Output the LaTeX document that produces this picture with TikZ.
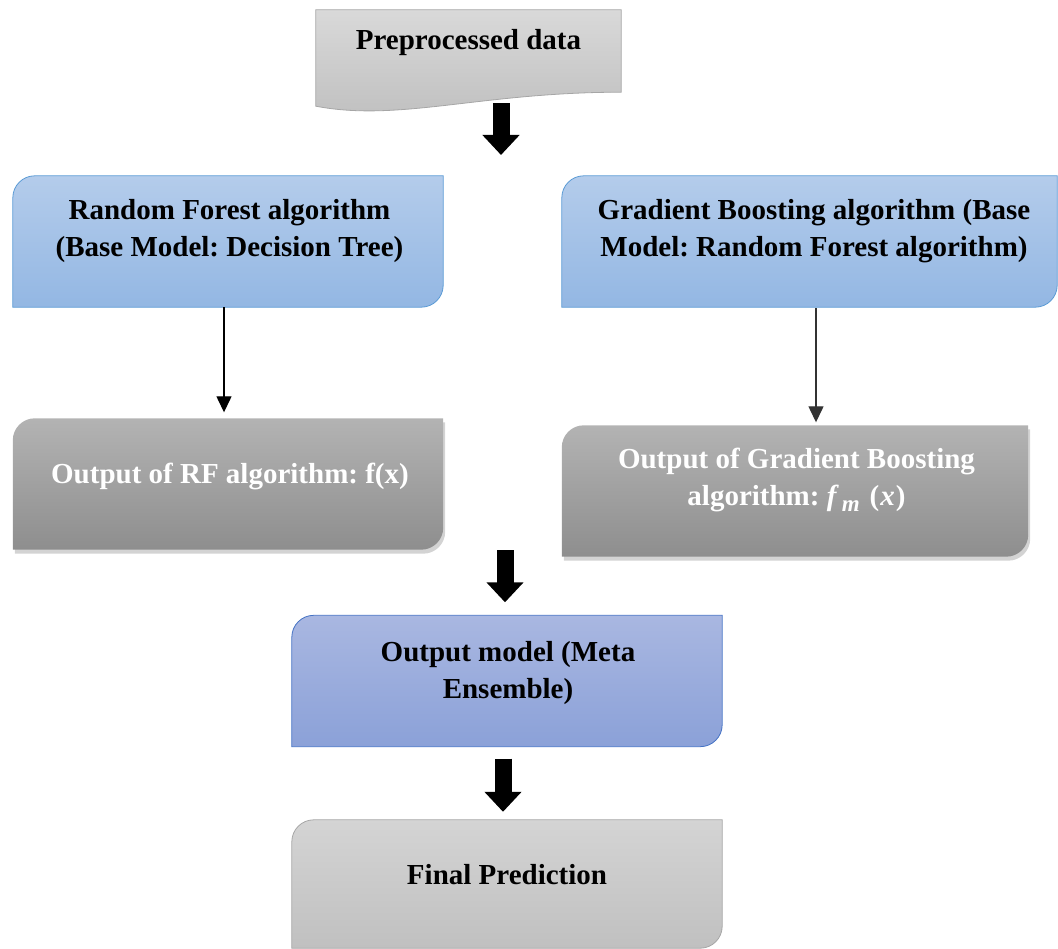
\documentclass[tikz,border=0pt]{standalone}
\usepackage{fontspec}
\setmainfont{Liberation Serif}
\usepackage{xcolor}
\usepackage{tikz}
\usetikzlibrary{arrows.meta,shadows}
\frenchspacing

\definecolor{docTop}{HTML}{D9D9D9}
\definecolor{docBot}{HTML}{BFBFBF}
\definecolor{grayLine}{HTML}{A6A6A6}
\definecolor{blueTop}{HTML}{B4CCEB}
\definecolor{blueBot}{HTML}{93B7E3}
\definecolor{blueLine}{HTML}{5B9BD5}
\definecolor{metaTop}{HTML}{A9B7E1}
\definecolor{metaBot}{HTML}{8BA1D8}
\definecolor{metaLine}{HTML}{4472C4}
\definecolor{outTop}{HTML}{B3B3B3}
\definecolor{outBot}{HTML}{8E8E8E}
\definecolor{finTop}{HTML}{D4D4D4}
\definecolor{finBot}{HTML}{C0C0C0}

% box with rounded top-left and bottom-right corners
\newcommand{\cornerbox}[2]{%
  \path[#2] (#1.west) [rounded corners=22] -- (#1.north west)
    [sharp corners] -- (#1.north east) [rounded corners=22] -- (#1.south east)
    [sharp corners] -- (#1.south west) -- cycle;}

\begin{document}
\begin{tikzpicture}[
    x=1pt, y=-1pt,
    every node/.style={font=\bfseries\fontsize{29}{37}\selectfont},
    frame/.style={rectangle, inner sep=0pt, minimum width=430, minimum height=131},
    txt/.style={align=center},
    whitetxt/.style={align=center, text=white},
    docfill/.style={draw=grayLine, line width=0.8pt, top color=docTop, bottom color=docBot},
    bluefill/.style={draw=blueLine, line width=0.8pt, top color=blueTop, bottom color=blueBot},
    metafill/.style={draw=metaLine, line width=0.8pt, top color=metaTop, bottom color=metaBot},
    outfill/.style={top color=outTop, bottom color=outBot, drop shadow={opacity=0.35, shadow xshift=2pt, shadow yshift=-4pt}},
    finfill/.style={draw=grayLine, line width=0.8pt, top color=finTop, bottom color=finBot},
    bigarrow/.style={line width=17pt, -{Triangle[width=36pt, length=20pt]}},
    thinarrow/.style={line width=1.3pt, -{Triangle[width=15pt, length=16pt]}}
]
    \useasboundingbox (0,0) rectangle (1058,949);

    % Frames
    \node (pre) [frame, minimum width=305, minimum height=96] at (468.5,58) {};
    \node (rf) [frame] at (228,241.5) {};
    \node (gb) [frame, minimum width=495] at (809.5,241.5) {};
    \node (rfout) [frame] at (228,484) {};
    \node (gbout) [frame, minimum width=466] at (795,491) {};
    \node (meta) [frame] at (507,681) {};
    \node (final) [frame, minimum height=128] at (507,884) {};

    % Shapes
    \path[docfill] (pre.south west) -- (pre.north west) -- (pre.north east) -- ([yshift=14]pre.south east)
        .. controls ([xshift=-141,yshift=14]pre.south east) and ([xshift=84,yshift=-16]pre.south west) .. (pre.south west) -- cycle;
    \cornerbox{rf}{bluefill}
    \cornerbox{gb}{bluefill}
    \cornerbox{rfout}{outfill}
    \cornerbox{gbout}{outfill}
    \cornerbox{meta}{metafill}
    \cornerbox{final}{finfill}

    % Texts
    \node [txt] at ([yshift=15]pre.center) {Preprocessed data};
    \node [txt] at ([xshift=1.5,yshift=10]rf.center) {Random Forest algorithm\\(Base Model: Decision Tree)};
    \node [txt] at ([xshift=4.5,yshift=10]gb.center) {Gradient Boosting algorithm (Base\\Model: Random Forest algorithm)};
    \node [whitetxt] at ([xshift=2,yshift=8]rfout.center) {Output of RF algorithm: f(x)};
    \node [whitetxt] at ([xshift=1.5,yshift=11]gbout.center) {Output of Gradient Boosting\\algorithm: \textit{f}\hspace{3pt}\raisebox{-6pt}{\fontsize{23}{23}\selectfont\textit{m}}\hspace{10pt}(\hspace{1pt}\textit{x}\hspace{1pt})};
    \node [txt] at ([xshift=1,yshift=8]meta.center) {Output model (Meta\\Ensemble)};
    \node [txt] at ([yshift=9]final.center) {Final Prediction};

    % Arrows
    \coordinate (a1) at (501,155);
    \coordinate (a2) at (505,550);
    \draw [bigarrow] ([xshift=32.5,yshift=3]pre.south) -- (a1);
    \draw [thinarrow] ([xshift=-4]rf.south) -- ([xshift=-4,yshift=6]rfout.north);
    \draw [thinarrow, black!80] ([xshift=6.5,yshift=-1]gb.south) -- ([xshift=21,yshift=3]gbout.north);
    \draw [bigarrow] (a2) -- ([xshift=-2,yshift=13]meta.north);
    \draw [bigarrow] ([xshift=-4,yshift=-12]meta.south) -- ([xshift=-4,yshift=8]final.north);

\end{tikzpicture}
\end{document}
